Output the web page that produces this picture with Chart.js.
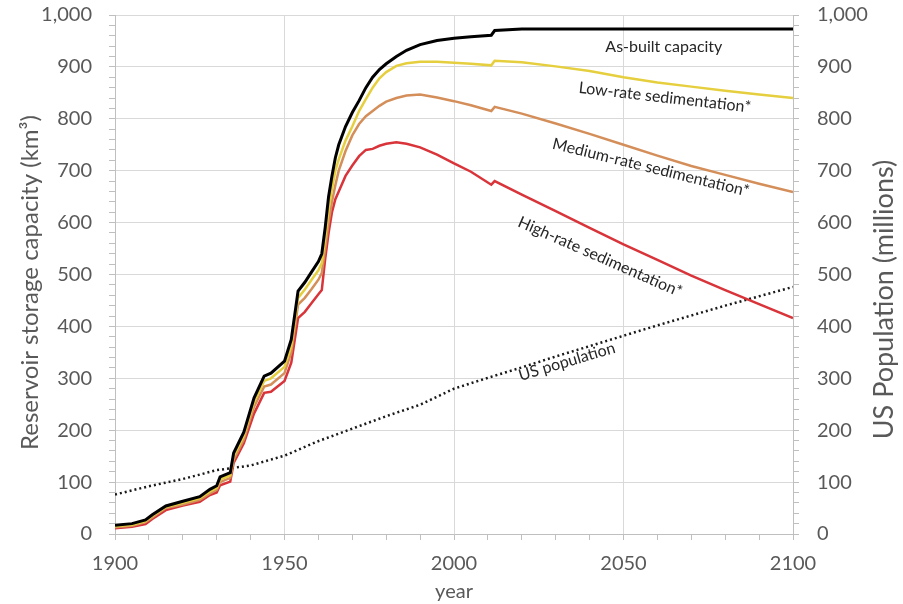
<!DOCTYPE html>
<html><head><meta charset="utf-8">
<script src="https://cdn.jsdelivr.net/npm/chart.js@4.4.0/dist/chart.umd.min.js"></script>
<style>html,body{margin:0;padding:0;background:#fff;} #wrap{width:903px;height:604px;}</style>
</head><body><div id="wrap"><canvas id="c" width="903" height="604"></canvas></div>
<script>
// ---- data ----
const years = [1900,1905,1909,1911,1915,1920,1925,1928,1930,1931,1934,1935,1938,1941,1944,1946,1950,1952,1954,1956,1958,1960,1961,1962,1963,1964,1965,1966,1968,1970,1972,1974,1976,1978,1980,1983,1986,1990,1995,2000,2005,2011,2012,2020,2030,2040,2050,2060,2070,2080,2090,2100];
const asBuilt = [17,20,27,37,54,63,72,86,93,110,118,156,196,262,304,310,333,375,468,485,505,525,540,590,650,690,725,750,785,812,835,860,880,895,906,920,932,943,951,955,958,961,970,973,973,973,973,973,973,973,973,973];
const lowRate = [15,18,25,35,52,60,69,82,89,105,113,150,189,254,295,300,322,362,455,471,490,508,522,570,625,665,700,722,758,785,815,838,860,878,890,902,907,910,910,908,906,903,912,909,901,892,880,870,862,854,847,840];
const mediumRate = [13,16,23,32,50,57,66,78,85,100,108,143,182,245,284,288,310,350,442,455,472,490,503,550,600,640,672,700,738,768,790,805,815,825,833,840,845,847,841,834,826,815,823,810,791,771,750,729,709,692,675,659];
const highRate = [11,14,19,29,46,55,62,75,80,94,101,137,175,232,272,274,295,330,416,428,445,462,470,530,580,620,645,660,690,710,728,740,742,748,752,755,752,745,731,714,698,673,680,654,622,590,558,528,498,470,443,416];
const popYears = [1900,1910,1920,1930,1940,1950,1960,1970,1980,1990,2000,2010,2020,2030,2040,2050,2060,2070,2080,2090,2100];
const usPopulation = [76,92,106,123,132,151,179,203,227,249,280,301,321,342,362,382,402,421,440,458,476];
const xLabelEvery = 50;
const yLabelEvery = 100;
const seriesNames = ['As-built capacity','Low-rate sedimentation*','Medium-rate sedimentation*','High-rate sedimentation*','US population'];
const axisTitles = {x: 'year', y: 'Reservoir storage capacity (km³)', y2: 'US Population (millions)'};

const pts = (xs, ys) => xs.map((x, i) => ({x: x, y: ys[i]}));
const FONT = 'Lato';
const GREY = '#595959';

// text annotations (placement in data units + angle)
const notes = [
  {text: seriesNames[0], x: 2061.9, y: 939, a: 0},
  {text: seriesNames[1], x: 2062.2, y: 841, a: 6.5},
  {text: seriesNames[2], x: 2058.1, y: 706, a: 13.8},
  {text: seriesNames[3], x: 2043.1, y: 534, a: 23.7},
  {text: seriesNames[4], x: 2033.3, y: 332, a: -16.6}
];

const notePlugin = {
  id: 'notes',
  afterDatasetsDraw(chart) {
    const ctx = chart.ctx, xs = chart.scales.x, ys = chart.scales.y;
    ctx.save();
    ctx.font = '16px ' + FONT;
    ctx.fillStyle = '#262626';
    ctx.textAlign = 'center';
    ctx.textBaseline = 'middle';
    notes.forEach(n => {
      ctx.save();
      ctx.translate(xs.getPixelForValue(n.x), ys.getPixelForValue(n.y));
      ctx.rotate(n.a * Math.PI / 180);
      ctx.fillText(n.text, 0, 0);
      ctx.restore();
    });
    ctx.restore();
  },
  afterDraw(chart) {
    // vertical axis titles, both reading bottom-to-top
    const ctx = chart.ctx, ys = chart.scales.y;
    ctx.save();
    ctx.fillStyle = GREY;
    ctx.textAlign = 'center';
    ctx.textBaseline = 'middle';
    ctx.font = '24px ' + FONT;
    ctx.save();
    ctx.translate(30, (ys.top + ys.bottom) / 2 + 8);
    ctx.rotate(-Math.PI / 2);
    ctx.fillText(axisTitles.y, 0, 0);
    ctx.restore();
    ctx.font = '27px ' + FONT;
    ctx.translate(884, (ys.top + ys.bottom) / 2 + 25);
    ctx.rotate(-Math.PI / 2);
    ctx.fillText(axisTitles.y2, 0, 0);
    ctx.restore();
  }
};

const minorGrid = (every) => (c) => (c.tick && Math.round(c.tick.value) % every === 0) ? '#d9d9d9' : 'rgba(0,0,0,0)';
const fixY = (w) => (s) => { s.width = w; s.paddingTop = 15; s.paddingBottom = 0; };

new Chart(document.getElementById('c'), {
  type: 'line',
  data: {
    datasets: [
      {label: seriesNames[0], data: pts(years, asBuilt), borderColor: '#000000', borderWidth: 3, yAxisID: 'y'},
      {label: seriesNames[1], data: pts(years, lowRate), borderColor: '#E6CF3E', borderWidth: 2.5, yAxisID: 'y'},
      {label: seriesNames[2], data: pts(years, mediumRate), borderColor: '#D48E5A', borderWidth: 2.5, yAxisID: 'y'},
      {label: seriesNames[3], data: pts(years, highRate), borderColor: '#D8343A', borderWidth: 2.5, yAxisID: 'y'},
      {label: seriesNames[4], data: pts(popYears, usPopulation), borderColor: '#1a1a1a', borderWidth: 2.5, borderDash: [2, 3], yAxisID: 'y2'}
    ]
  },
  options: {
    responsive: false,
    animation: false,
    devicePixelRatio: 1,
    layout: {padding: {top: 0, left: 0, right: 0, bottom: 0}},
    elements: {point: {radius: 0}, line: {tension: 0, fill: false}},
    plugins: {legend: {display: false}, tooltip: {enabled: false}},
    scales: {
      x: {
        type: 'linear', min: 1900, max: 2100,
        afterFit: s => { s.height = 70; },
        ticks: {stepSize: 10, autoSkip: false, maxRotation: 0, padding: 12, color: GREY, font: {family: FONT, size: 20},
          callback: v => (Math.round(v) % xLabelEvery === 0 ? String(v) : '')},
        grid: {color: minorGrid(xLabelEvery), tickColor: '#bfbfbf', tickLength: 6, lineWidth: 1},
        border: {display: true, color: '#bfbfbf', width: 1},
        title: {display: true, text: axisTitles.x, color: GREY, font: {family: FONT, size: 20}, padding: {top: 0, bottom: 0}}
      },
      y: {
        type: 'linear', position: 'left', min: 0, max: 1000,
        afterFit: fixY(115),
        ticks: {stepSize: 20, autoSkip: false, padding: 17, color: GREY, font: {family: FONT, size: 20},
          callback: v => (Math.round(v) % yLabelEvery === 0 ? v.toLocaleString('en-US') : '')},
        grid: {color: minorGrid(yLabelEvery), tickColor: '#bfbfbf', tickLength: 6, lineWidth: 1},
        border: {display: true, color: '#bfbfbf', width: 1}
      },
      y2: {
        type: 'linear', position: 'right', min: 0, max: 1000,
        afterFit: fixY(110),
        ticks: {stepSize: 20, autoSkip: false, padding: 18, color: GREY, font: {family: FONT, size: 20},
          callback: v => (Math.round(v) % yLabelEvery === 0 ? v.toLocaleString('en-US') : '')},
        grid: {drawOnChartArea: false, tickColor: '#bfbfbf', tickLength: 6},
        border: {display: true, color: '#bfbfbf', width: 1}
      }
    }
  },
  plugins: [notePlugin]
});
</script></body></html>
